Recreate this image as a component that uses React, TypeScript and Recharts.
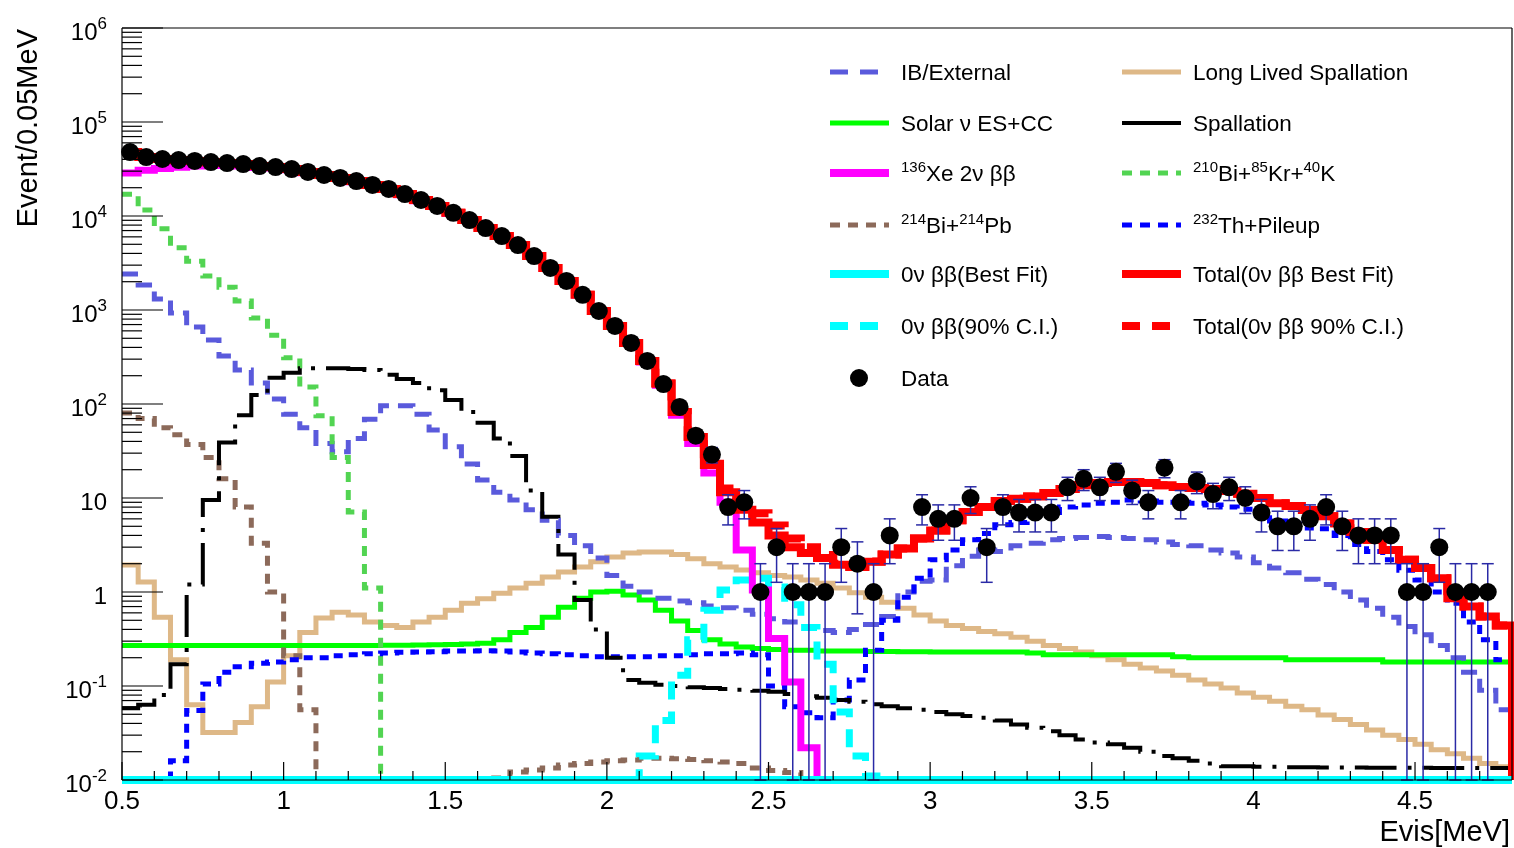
import React from 'react';
import { ComposedChart, Line, Scatter, XAxis, YAxis, ErrorBar, ReferenceLine, Legend } from 'recharts';

const FONT = "'Liberation Sans', Arial, Helvetica, sans-serif";
const BIN_LOW = 0.5;
const BIN_WIDTH = 0.05;
const X_MAX = 4.8;
const FLOOR = 0.01;

// ---- tick labels ----
const xMajorTicks = [0.5, 1, 1.5, 2, 2.5, 3, 3.5, 4, 4.5];
const xTickLabels = ['0.5', '1', '1.5', '2', '2.5', '3', '3.5', '4', '4.5'];
const xMinorTicks = [0.6, 0.7, 0.8, 0.9, 1.1, 1.2, 1.3, 1.4, 1.6, 1.7, 1.8, 1.9, 2.1, 2.2, 2.3, 2.4, 2.6, 2.7, 2.8, 2.9,
  3.1, 3.2, 3.3, 3.4, 3.6, 3.7, 3.8, 3.9, 4.1, 4.2, 4.3, 4.4, 4.6, 4.7];
const yMajorTicks = [0.01, 0.1, 1, 10, 100, 1000, 10000, 100000, 1000000];
const yTickBase = ['10', '10', '1', '10', '10', '10', '10', '10', '10'];
const yTickExp = ['-2', '-1', '', '', '2', '3', '4', '5', '6'];
const yMinorMultipliers = [2, 3, 4, 5, 6, 7, 8, 9];

// ---- data: events per 0.05 MeV bin, bins from 0.50 to 4.80 MeV (86 bins) ----
const dataCounts = [47900, 42400, 40400, 39400, 38500, 37500, 36600, 35700, 34000, 33200,
  31600, 29400, 27300, 25400, 23500, 21400, 19400, 17100, 14800, 12800,
  10800, 9060, 7450, 6120, 4910, 3750, 2800, 2040, 1450, 976,
  676, 446, 287, 163, 93, 46, 29, 8, 9, 1,
  3, 1, 1, 1, 3, 2, 1, 4, 0, 8,
  6, 6, 10, 3, 8, 7, 7, 7, 13, 16,
  13, 19, 12, 9, 21, 9, 15, 11, 13, 10,
  7, 5, 5, 6, 8, 5, 4, 4, 4, 1,
  1, 3, 1, 1, 1, 0];

const ibExternal = [2420, 1850, 1310, 930, 660, 480, 324, 230, 167, 113,
  78, 56, 38, 31, 43, 69, 96, 96, 78, 53,
  35, 23, 15.5, 11.5, 9.5, 7.5, 5.8, 4.0, 3.1, 2.3,
  1.5, 1.15, 1.0, 0.86, 0.8, 0.77, 0.71, 0.68, 0.64, 0.58,
  0.52, 0.48, 0.43, 0.39, 0.37, 0.4, 0.45, 0.55, 1.0, 1.3,
  1.34, 1.9, 2.4, 2.8, 2.7, 3.1, 3.3, 3.6, 3.7, 3.8,
  3.9, 3.8, 3.7, 3.6, 3.4, 3.2, 3.1, 2.8, 2.6, 2.35,
  2.05, 1.8, 1.6, 1.37, 1.2, 1.0, 0.82, 0.67, 0.54, 0.43,
  0.35, 0.27, 0.2, 0.14, 0.09, 0.056];

const solarNu = [0.27, 0.27, 0.27, 0.27, 0.27, 0.27, 0.27, 0.27, 0.27, 0.27,
  0.27, 0.27, 0.27, 0.27, 0.27, 0.27, 0.272, 0.272, 0.273, 0.274,
  0.276, 0.28, 0.285, 0.31, 0.37, 0.42, 0.54, 0.69, 0.86, 1.0,
  1.02, 0.93, 0.82, 0.64, 0.49, 0.39, 0.31, 0.28, 0.26, 0.25,
  0.245, 0.24, 0.24, 0.235, 0.235, 0.235, 0.233, 0.233, 0.232, 0.232,
  0.23, 0.23, 0.23, 0.23, 0.23, 0.23, 0.225, 0.215, 0.215, 0.215,
  0.215, 0.215, 0.215, 0.215, 0.215, 0.205, 0.2, 0.2, 0.2, 0.2,
  0.2, 0.2, 0.19, 0.19, 0.19, 0.19, 0.19, 0.19, 0.18, 0.18,
  0.18, 0.18, 0.18, 0.18, 0.18, 0.18];

const xe136TwoNu = [28600, 30700, 32000, 33000, 34000, 34500, 34400, 34100, 32900, 32400,
  31000, 28900, 26900, 25100, 23200, 21100, 19100, 16800, 14500, 12600,
  10600, 8950, 7370, 6070, 4870, 3720, 2780, 2030, 1440, 970,
  670, 440, 280, 158, 76, 38, 18.5, 9.0, 2.8, 1.05,
  0.32, 0.11, 0.022, 0, 0, 0, 0, 0, 0, 0,
  0, 0, 0, 0, 0, 0, 0, 0, 0, 0,
  0, 0, 0, 0, 0, 0, 0, 0, 0, 0,
  0, 0, 0, 0, 0, 0, 0, 0, 0, 0,
  0, 0, 0, 0, 0, 0];

const bi214Pb214 = [80, 70, 56, 47, 37, 27, 16, 8.0, 3.3, 1.0,
  0.21, 0.056, 0, 0, 0, 0, 0, 0, 0, 0,
  0, 0, 0, 0.0105, 0.0122, 0.0128, 0.0134, 0.0144, 0.015, 0.0155,
  0.016, 0.0163, 0.017, 0.017, 0.0168, 0.0165, 0.016, 0.0155, 0.015, 0.0134,
  0.0126, 0.012, 0, 0, 0, 0, 0, 0, 0, 0,
  0, 0, 0, 0, 0, 0, 0, 0, 0, 0,
  0, 0, 0, 0, 0, 0, 0, 0, 0, 0,
  0, 0, 0, 0, 0, 0, 0, 0, 0, 0,
  0, 0, 0, 0, 0, 0];

const zeroNuBestFit = [0, 0, 0, 0, 0, 0, 0, 0, 0, 0,
  0, 0, 0, 0, 0, 0, 0, 0, 0, 0,
  0, 0, 0, 0, 0, 0, 0, 0, 0, 0,
  0, 0, 0, 0, 0, 0, 0, 0, 0, 0,
  0, 0, 0, 0, 0, 0, 0, 0, 0, 0,
  0, 0, 0, 0, 0, 0, 0, 0, 0, 0,
  0, 0, 0, 0, 0, 0, 0, 0, 0, 0,
  0, 0, 0, 0, 0, 0, 0, 0, 0, 0,
  0, 0, 0, 0, 0, 0];

const zeroNu90CI = [0, 0, 0, 0, 0, 0, 0, 0, 0, 0,
  0, 0, 0, 0, 0, 0, 0, 0, 0, 0,
  0, 0, 0, 0, 0, 0, 0, 0, 0, 0,
  0, 0, 0.018, 0.043, 0.13, 0.31, 0.64, 1.05, 1.34, 1.4,
  1.13, 0.73, 0.42, 0.17, 0.053, 0.018, 0.011, 0, 0, 0,
  0, 0, 0, 0, 0, 0, 0, 0, 0, 0,
  0, 0, 0, 0, 0, 0, 0, 0, 0, 0,
  0, 0, 0, 0, 0, 0, 0, 0, 0, 0,
  0, 0, 0, 0, 0, 0];

const longLivedSpall = [1.94, 1.28, 0.54, 0.19, 0.063, 0.032, 0.032, 0.041, 0.06, 0.11,
  0.21, 0.37, 0.53, 0.61, 0.57, 0.48, 0.44, 0.42, 0.48, 0.54,
  0.64, 0.76, 0.85, 0.97, 1.1, 1.24, 1.44, 1.63, 1.84, 2.1,
  2.35, 2.6, 2.66, 2.66, 2.5, 2.26, 2.0, 1.84, 1.71, 1.6,
  1.5, 1.44, 1.34, 1.24, 1.1, 0.98, 0.88, 0.78, 0.67, 0.57,
  0.49, 0.44, 0.41, 0.38, 0.36, 0.33, 0.3, 0.27, 0.25, 0.23,
  0.21, 0.19, 0.17, 0.155, 0.144, 0.13, 0.116, 0.105, 0.095, 0.084,
  0.076, 0.069, 0.061, 0.056, 0.049, 0.044, 0.039, 0.034, 0.03, 0.027,
  0.024, 0.021, 0.019, 0.017, 0.015, 0.0138];

const spallation = [0.058, 0.063, 0.08, 0.17, 1.2, 9.5, 39, 76, 125, 190,
  215, 240, 240, 240, 235, 230, 205, 185, 167, 140,
  110, 82, 63, 43, 28, 12, 6.3, 2.5, 0.82, 0.4,
  0.2, 0.116, 0.108, 0.103, 0.1, 0.097, 0.095, 0.093, 0.091, 0.089,
  0.087, 0.082, 0.078, 0.075, 0.071, 0.068, 0.064, 0.061, 0.058, 0.056,
  0.053, 0.05, 0.048, 0.046, 0.043, 0.039, 0.036, 0.033, 0.03, 0.027,
  0.025, 0.024, 0.022, 0.02, 0.018, 0.017, 0.016, 0.015, 0.014, 0.014,
  0.0138, 0.0138, 0.0137, 0.0137, 0.0136, 0.0136, 0.0136, 0.0135, 0.0135, 0.0135,
  0.0135, 0.0134, 0.0134, 0.0134, 0.0134, 0.0134];

const bi210Kr85K40 = [17000, 11600, 7300, 4600, 3300, 2300, 1750, 1250, 820, 540,
  310, 152, 75, 27, 7.1, 1.1, 0, 0, 0, 0,
  0, 0, 0, 0, 0, 0, 0, 0, 0, 0,
  0, 0, 0, 0, 0, 0, 0, 0, 0, 0,
  0, 0, 0, 0, 0, 0, 0, 0, 0, 0,
  0, 0, 0, 0, 0, 0, 0, 0, 0, 0,
  0, 0, 0, 0, 0, 0, 0, 0, 0, 0,
  0, 0, 0, 0, 0, 0, 0, 0, 0, 0,
  0, 0, 0, 0, 0, 0];

const th232Pileup = [0, 0, 0.008, 0.016, 0.055, 0.105, 0.14, 0.16, 0.175, 0.18,
  0.19, 0.2, 0.2, 0.21, 0.215, 0.22, 0.225, 0.228, 0.23, 0.232,
  0.235, 0.236, 0.237, 0.235, 0.23, 0.225, 0.22, 0.215, 0.21, 0.205,
  0.205, 0.205, 0.205, 0.21, 0.21, 0.215, 0.22, 0.22, 0.225, 0.215,
  0.1, 0.06, 0.052, 0.046, 0.071, 0.116, 0.24, 0.5, 0.88, 1.4,
  2.2, 2.8, 3.6, 4.2, 5.2, 5.5, 6.6, 7.0, 8.0, 8.4,
  8.8, 9.0, 9.5, 9.3, 9.0, 9.0, 8.8, 8.4, 8.0, 7.6,
  6.6, 5.7, 5.3, 4.8, 4.7, 4.0, 3.2, 2.7, 2.2, 1.7,
  1.34, 1.0, 0.76, 0.48, 0.31, 0.19];

const totalBestFit = [47900, 42500, 40400, 39300, 38500, 37400, 36600, 35700, 34100, 33200,
  31600, 29400, 27300, 25400, 23500, 21400, 19400, 17100, 14800, 12800,
  10800, 9060, 7450, 6120, 4910, 3750, 2800, 2040, 1450, 976,
  676, 446, 287, 165, 82, 44.5, 22.5, 11.5, 7.5, 5.5,
  4.0, 3.0, 2.6, 2.3, 1.95, 1.84, 2.1, 2.5, 2.9, 3.7,
  4.5, 5.8, 7.1, 8.0, 9.3, 9.8, 10.4, 11.3, 12.5, 13.7,
  14.4, 14.8, 14.8, 14.4, 13.7, 13.1, 12.8, 12.5, 11.9, 11.1,
  10.0, 8.8, 8.2, 7.45, 6.4, 5.4, 4.35, 3.6, 2.8, 2.2,
  1.8, 1.4, 0.86, 0.7, 0.55, 0.44];

const total90CI = [47900, 42500, 40400, 39300, 38500, 37400, 36600, 35700, 34100, 33200,
  31600, 29400, 27300, 25400, 23500, 21400, 19400, 17100, 14800, 12800,
  10800, 9060, 7450, 6120, 4910, 3750, 2800, 2040, 1450, 976,
  676, 446, 287, 165, 82.1, 44.8, 23.1, 12.6, 8.8, 6.9,
  5.1, 3.7, 3.0, 2.47, 2.0, 1.86, 2.11, 2.5, 2.9, 3.7,
  4.5, 5.8, 7.1, 8.0, 9.3, 9.8, 10.4, 11.3, 12.5, 13.7,
  14.4, 14.8, 14.8, 14.4, 13.7, 13.1, 12.8, 12.5, 11.9, 11.1,
  10.0, 8.8, 8.2, 7.45, 6.4, 5.4, 4.35, 3.6, 2.8, 2.2,
  1.8, 1.4, 0.86, 0.7, 0.55, 0.44];

// ---- table builders ----
const edge = (i: number) => Math.round((BIN_LOW + i * BIN_WIDTH) * 1000) / 1000;
const atFloor = (v: number) => (v > FLOOR ? v : FLOOR);

function stepRows(values: number[]) {
  const rows = values.map((v, i) => ({ x: edge(i), y: atFloor(v) }));
  rows.push({ x: X_MAX, y: atFloor(values[values.length - 1]) });
  rows.push({ x: X_MAX, y: FLOOR });
  return rows;
}

const dataRows = dataCounts
  .map((n, i) => ({
    x: Math.round((BIN_LOW + (i + 0.5) * BIN_WIDTH) * 10000) / 10000,
    y: n,
    err: [Math.min(Math.sqrt(n), n - FLOOR), Math.sqrt(n)],
  }))
  .filter((r) => r.y > 0);

const yTicks = [
  ...yMajorTicks,
  ...yMajorTicks.slice(0, -1).flatMap((d) => yMinorMultipliers.map((m) => d * m)),
];
const xTicks = [...xMajorTicks, ...xMinorTicks];

// ---- axis pieces ----
function YTick(props: any) {
  const { x, y, payload } = props;
  const v = payload.value as number;
  const idx = yMajorTicks.findIndex((t) => Math.abs(t / v - 1) < 1e-6);
  const major = idx >= 0;
  return (
    <g>
      <line x1={x} x2={x + (major ? 41 : 20)} y1={y} y2={y} stroke="#000" strokeWidth={1.2} />
      {major && (
        <text x={x - 15} y={y + 12} textAnchor="end" fontSize={24} fontFamily={FONT} fill="#000">
          {yTickBase[idx]}
          {yTickExp[idx] !== '' && (
            <tspan dy={-11} fontSize={17}>
              {yTickExp[idx]}
            </tspan>
          )}
        </text>
      )}
    </g>
  );
}

function XTick(props: any) {
  const { x, y, payload } = props;
  const v = payload.value as number;
  const idx = xMajorTicks.findIndex((t) => Math.abs(t - v) < 1e-6);
  const major = idx >= 0;
  return (
    <g>
      <line x1={x} x2={x} y1={y} y2={y - (major ? 18 : 9)} stroke="#000" strokeWidth={1.2} />
      {major && (
        <text x={x} y={y + 29} textAnchor="middle" fontSize={26} fontFamily={FONT} fill="#000">
          {xTickLabels[idx]}
        </text>
      )}
    </g>
  );
}

function YTitle() {
  return (
    <text x={29} y={21} transform="rotate(-90, 29, 21)" textAnchor="end" fontSize={29} fontFamily={FONT} fill="#000">
      Event/0.05MeV
    </text>
  );
}

function XTitle() {
  return (
    <text x={1502} y={833} textAnchor="end" fontSize={29} fontFamily={FONT} fill="#000">
      Evis[MeV]
    </text>
  );
}

// ---- legend ----
type Seg = { t: string; sup?: boolean };
type LegendItem = { col: number; row: number; label: Seg[]; color: string; width: number; dash?: string; marker?: boolean };

const legendItems: LegendItem[] = [
  { col: 0, row: 0, label: [{ t: 'IB/External' }], color: '#5a5adc', width: 5, dash: '18 12' },
  { col: 0, row: 1, label: [{ t: 'Solar \u03bd ES+CC' }], color: '#00ff00', width: 5 },
  { col: 0, row: 2, label: [{ t: '136', sup: true }, { t: 'Xe 2\u03bd \u03b2\u03b2' }], color: '#ff00ff', width: 8 },
  { col: 0, row: 3, label: [{ t: '214', sup: true }, { t: 'Bi+' }, { t: '214', sup: true }, { t: 'Pb' }], color: '#8c6a5a', width: 5, dash: '10 8' },
  { col: 0, row: 4, label: [{ t: '0\u03bd \u03b2\u03b2(Best Fit)' }], color: '#00ffff', width: 8 },
  { col: 0, row: 5, label: [{ t: '0\u03bd \u03b2\u03b2(90% C.I.)' }], color: '#00ffff', width: 8, dash: '18 12' },
  { col: 0, row: 6, label: [{ t: 'Data' }], color: '#000', width: 0, marker: true },
  { col: 1, row: 0, label: [{ t: 'Long Lived Spallation' }], color: '#deb887', width: 5 },
  { col: 1, row: 1, label: [{ t: 'Spallation' }], color: '#000', width: 4 },
  { col: 1, row: 2, label: [{ t: '210', sup: true }, { t: 'Bi+' }, { t: '85', sup: true }, { t: 'Kr+' }, { t: '40', sup: true }, { t: 'K' }], color: '#52d452', width: 5, dash: '10 8' },
  { col: 1, row: 3, label: [{ t: '232', sup: true }, { t: 'Th+Pileup' }], color: '#0000ff', width: 5, dash: '10 8' },
  { col: 1, row: 4, label: [{ t: 'Total(0\u03bd \u03b2\u03b2 Best Fit)' }], color: '#ff0000', width: 8 },
  { col: 1, row: 5, label: [{ t: 'Total(0\u03bd \u03b2\u03b2 90% C.I.)' }], color: '#ff0000', width: 8, dash: '18 12' },
];

const legendRowY = [27, 78, 128, 180, 229, 281, 333];
const legendColX = [10, 302];

function LegendBox() {
  return (
    <svg width={640} height={360} style={{ display: 'block', overflow: 'visible' }}>
      {legendItems.map((it, i) => {
        const x0 = legendColX[it.col];
        const cy = legendRowY[it.row];
        let prevSup = false;
        return (
          <g key={i}>
            {it.marker ? (
              <circle cx={x0 + 29} cy={cy} r={9} fill="#000" />
            ) : (
              <line x1={x0} x2={x0 + 59} y1={cy} y2={cy} stroke={it.color} strokeWidth={it.width} strokeDasharray={it.dash} />
            )}
            <text x={x0 + 71} y={cy + 8} fontSize={22.5} fontFamily={FONT} fill="#000">
              {it.label.map((s, j) => {
                const dy = s.sup && !prevSup ? -9 : !s.sup && prevSup ? 9 : 0;
                prevSup = !!s.sup;
                return (
                  <tspan key={j} dy={dy} fontSize={s.sup ? 15 : 22.5}>
                    {s.t}
                  </tspan>
                );
              })}
            </text>
          </g>
        );
      })}
    </svg>
  );
}

// ---- series styling ----
type SeriesDef = { name: string; values: number[]; color: string; width: number; dash?: string };
const seriesDefs: SeriesDef[] = [
  { name: 'Long Lived Spallation', values: longLivedSpall, color: '#deb887', width: 5 },
  { name: 'Solar', values: solarNu, color: '#00ff00', width: 5 },
  { name: 'IB/External', values: ibExternal, color: '#5a5adc', width: 5, dash: '16 9' },
  { name: '214Bi+214Pb', values: bi214Pb214, color: '#8c6a5a', width: 5, dash: '10 8' },
  { name: '210Bi+85Kr+40K', values: bi210Kr85K40, color: '#52d452', width: 5, dash: '10 8' },
  { name: '232Th+Pileup', values: th232Pileup, color: '#0000ff', width: 5, dash: '9 7' },
  { name: 'Spallation', values: spallation, color: '#000000', width: 4, dash: '42 11 4 11' },
  { name: '0vbb 90% CI', values: zeroNu90CI, color: '#00ffff', width: 7, dash: '18 12' },
  { name: 'Xe136 2vbb', values: xe136TwoNu, color: '#ff00ff', width: 7 },
  { name: 'Total best fit', values: totalBestFit, color: '#ff0000', width: 8 },
  { name: 'Total 90% CI', values: total90CI, color: '#ff0000', width: 8, dash: '18 12' },
  { name: '0vbb best fit', values: zeroNuBestFit, color: '#00ffff', width: 8 },
];

export default function App() {
  return (
    <div style={{ position: 'fixed', left: 8, top: 8, width: 1506, height: 840 }}>
      <ComposedChart width={1506} height={840} margin={{ top: 20, right: 2, bottom: 0, left: 0 }}>
        <XAxis
          dataKey="x"
          type="number"
          domain={[BIN_LOW, X_MAX]}
          ticks={xTicks}
          interval={0}
          tick={<XTick />}
          tickLine={false}
          tickSize={0}
          tickMargin={0}
          height={68}
          axisLine={{ stroke: '#000', strokeWidth: 1.2 }}
          label={<XTitle />}
        />
        <YAxis
          type="number"
          scale="log"
          domain={[0.01, 1000000]}
          ticks={yTicks}
          interval={0}
          tick={<YTick />}
          tickLine={false}
          tickSize={0}
          tickMargin={0}
          width={114}
          axisLine={{ stroke: '#000', strokeWidth: 1.2 }}
          label={<YTitle />}
        />
        {seriesDefs.map((s) => (
          <Line
            key={s.name}
            name={s.name}
            data={stepRows(s.values)}
            dataKey="y"
            type="stepAfter"
            stroke={s.color}
            strokeWidth={s.width}
            strokeDasharray={s.dash}
            dot={false}
            activeDot={false}
            isAnimationActive={false}
          />
        ))}
        <Scatter
          name="Data"
          data={dataRows}
          dataKey="y"
          isAnimationActive={false}
          shape={(p: any) => <circle cx={p.cx} cy={p.cy} r={9} fill="#000" />}
        >
          <ErrorBar dataKey="err" direction="y" width={6} stroke="#2a2aa6" strokeWidth={1.5} isAnimationActive={false} />
        </Scatter>
        <ReferenceLine y={1000000} stroke="#000" strokeWidth={1.2} ifOverflow="visible" />
        <ReferenceLine x={X_MAX} stroke="#000" strokeWidth={1.2} ifOverflow="visible" />
        <Legend
          layout="horizontal"
          verticalAlign="middle"
          align="center"
          wrapperStyle={{ position: 'absolute', left: 812, top: 37, width: 640, height: 360 }}
          content={() => <LegendBox />}
        />
      </ComposedChart>
    </div>
  );
}
